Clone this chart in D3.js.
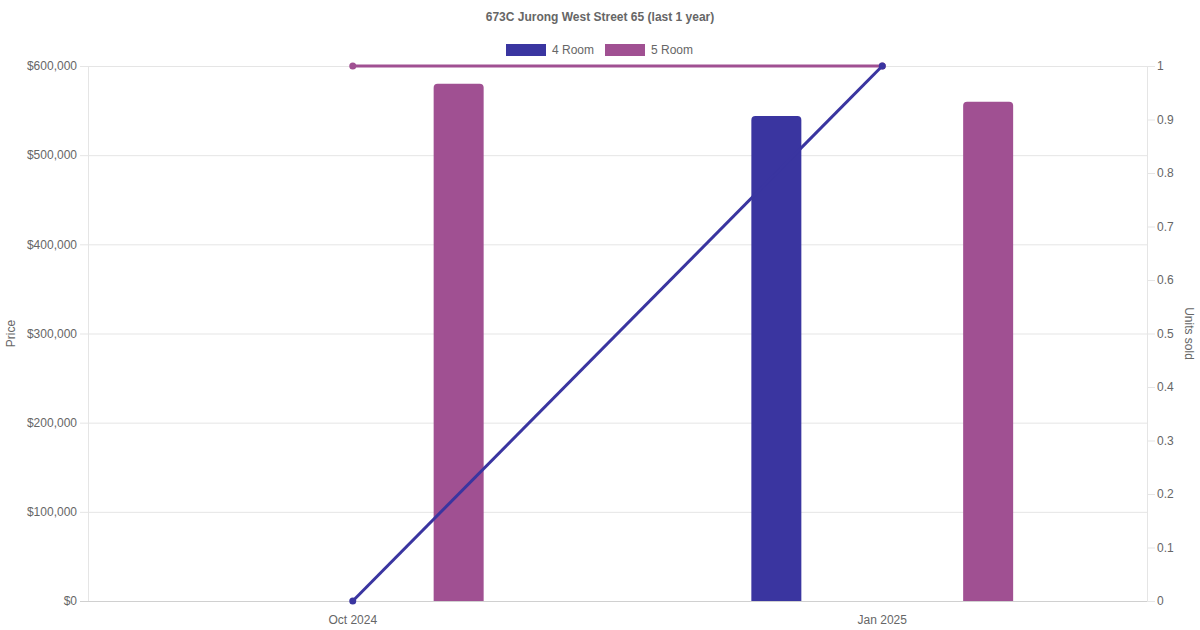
<!DOCTYPE html>
<html>
<head>
<meta charset="utf-8">
<script src="https://cdn.jsdelivr.net/npm/d3@7"></script>
<style>
  body { margin: 0; background: #fff; }
  svg text { font-family: "Liberation Sans", Arial, sans-serif; }
</style>
</head>
<body>
<div id="chart"></div>
<script>
// Chart data
const months = ["Oct 2024", "Jan 2025"];
const seriesNames = ["4 Room", "5 Room"];
const seriesColors = ["#3a35a0", "#a05092"];
const price4Room = [null, 544000];
const price5Room = [580000, 560000];
const units4Room = [0, 1];
const units5Room = [1, 1];
const priceTicks = [0, 100000, 200000, 300000, 400000, 500000, 600000];
const unitTicks = [0, 0.1, 0.2, 0.3, 0.4, 0.5, 0.6, 0.7, 0.8, 0.9, 1];

const W = 1200, H = 630;
const plot = {left: 88, right: 1147, top: 66, bottom: 601};

const svg = d3.select("#chart").append("svg")
    .attr("width", W)
    .attr("height", H);

// Scales
const x = d3.scaleBand()
    .domain(months)
    .range([plot.left, plot.right]);

const xInner = d3.scaleBand()
    .domain(seriesNames)
    .range([0, x.bandwidth() * 0.8]);

const yPrice = d3.scaleLinear()
    .domain([0, 600000])
    .range([plot.bottom, plot.top]);

const yUnits = d3.scaleLinear()
    .domain([0, 1])
    .range([plot.bottom, plot.top]);

// Gridlines (horizontal)
svg.append("g")
    .selectAll("line")
    .data(priceTicks)
    .enter()
    .append("line")
    .attr("x1", plot.left - 8)
    .attr("x2", plot.right)
    .attr("y1", d => yPrice(d) + 0.5)
    .attr("y2", d => yPrice(d) + 0.5)
    .attr("stroke", d => d === 0 ? "#d0d0d0" : "#e5e5e5")
    .attr("stroke-width", 1);

// Right axis tick marks
svg.append("g")
    .selectAll("line")
    .data(unitTicks)
    .enter()
    .append("line")
    .attr("x1", plot.right)
    .attr("x2", plot.right + 8)
    .attr("y1", d => yUnits(d) + 0.5)
    .attr("y2", d => yUnits(d) + 0.5)
    .attr("stroke", "#e5e5e5");

// Vertical axis lines
[plot.left, plot.right].forEach(px => {
    svg.append("line")
        .attr("x1", px + 0.5).attr("x2", px + 0.5)
        .attr("y1", plot.top).attr("y2", plot.bottom)
        .attr("stroke", "#e5e5e5");
});

// Left axis labels
svg.append("g")
    .selectAll("text")
    .data(priceTicks)
    .enter()
    .append("text")
    .attr("x", plot.left - 11)
    .attr("y", d => yPrice(d))
    .attr("dy", "0.35em")
    .attr("text-anchor", "end")
    .attr("fill", "#666")
    .style("font-size", "12px")
    .text(d => "$" + d3.format(",")(d));

// Right axis labels
svg.append("g")
    .selectAll("text")
    .data(unitTicks)
    .enter()
    .append("text")
    .attr("x", plot.right + 10)
    .attr("y", d => yUnits(d))
    .attr("dy", "0.35em")
    .attr("text-anchor", "start")
    .attr("fill", "#666")
    .style("font-size", "12px")
    .text(d => d3.format("~g")(d));

// X axis labels
svg.append("g")
    .selectAll("text")
    .data(months)
    .enter()
    .append("text")
    .attr("x", d => x(d) + x.bandwidth() / 2)
    .attr("y", plot.bottom + 23)
    .attr("text-anchor", "middle")
    .attr("fill", "#666")
    .style("font-size", "12px")
    .text(d => d);

// Axis titles
svg.append("text")
    .attr("transform", `translate(15,${(plot.top + plot.bottom) / 2}) rotate(-90)`)
    .attr("text-anchor", "middle")
    .attr("fill", "#666")
    .style("font-size", "12px")
    .text("Price");

svg.append("text")
    .attr("transform", `translate(1185,${(plot.top + plot.bottom) / 2}) rotate(90)`)
    .attr("text-anchor", "middle")
    .attr("fill", "#666")
    .style("font-size", "12px")
    .text("Units sold");

// Title
svg.append("text")
    .attr("x", W / 2)
    .attr("y", 21)
    .attr("text-anchor", "middle")
    .attr("fill", "#666")
    .style("font-size", "12px")
    .style("font-weight", "bold")
    .text("673C Jurong West Street 65 (last 1 year)");

// Legend
const legend = svg.append("g");
const legendX = [506, 605];
seriesNames.forEach((name, i) => {
    legend.append("rect")
        .attr("x", legendX[i])
        .attr("y", 44)
        .attr("width", 40)
        .attr("height", 12)
        .attr("fill", seriesColors[i]);
    legend.append("text")
        .attr("x", legendX[i] + 46)
        .attr("y", 50)
        .attr("dy", "0.35em")
        .attr("fill", "#666")
        .style("font-size", "12px")
        .text(name);
});

// Bars
const barData = [];
[price4Room, price5Room].forEach((vals, si) => {
    vals.forEach((v, ci) => {
        if (v !== null) barData.push({series: seriesNames[si], color: seriesColors[si], month: months[ci], value: v});
    });
});

function barPath(d) {
    const slot = xInner.bandwidth();
    const bw = Math.min(50, slot * 0.9);
    const cx = x(d.month) + x.bandwidth() * 0.1 + xInner(d.series) + slot / 2;
    const x0 = cx - bw / 2, x1 = cx + bw / 2;
    const yTop = yPrice(d.value), yBot = yPrice(0);
    const r = 4;
    return `M${x0},${yBot} L${x0},${yTop + r} Q${x0},${yTop} ${x0 + r},${yTop} L${x1 - r},${yTop} Q${x1},${yTop} ${x1},${yTop + r} L${x1},${yBot} Z`;
}

svg.append("g")
    .selectAll("path")
    .data(barData)
    .enter()
    .append("path")
    .attr("d", barPath)
    .attr("fill", d => d.color);

// Lines (units sold) - 5 Room drawn first, 4 Room on top
const line = d3.line()
    .x((d, i) => x(months[i]) + x.bandwidth() / 2)
    .y(d => yUnits(d));

[[units5Room, seriesColors[1]], [units4Room, seriesColors[0]]].forEach(([vals, color]) => {
    svg.append("path")
        .datum(vals)
        .attr("d", line)
        .attr("fill", "none")
        .attr("stroke", color)
        .attr("stroke-width", 3);
    svg.append("g")
        .selectAll("circle")
        .data(vals)
        .enter()
        .append("circle")
        .attr("cx", (d, i) => x(months[i]) + x.bandwidth() / 2)
        .attr("cy", d => yUnits(d))
        .attr("r", 3.5)
        .attr("fill", color);
});
</script>
</body>
</html>
